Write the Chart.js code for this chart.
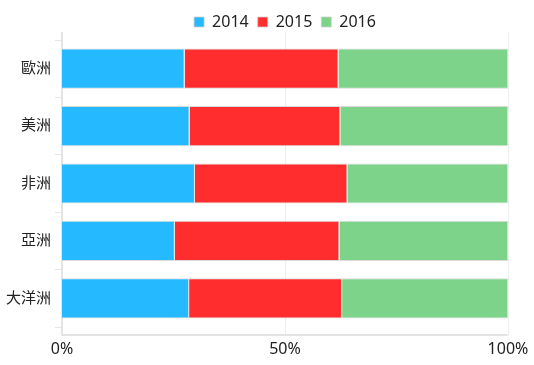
<!DOCTYPE html>
<html>
<head>
<meta charset="utf-8">
<script src="https://cdn.jsdelivr.net/npm/chart.js@4/dist/chart.umd.min.js"></script>
<style>
    html, body { margin: 0; padding: 0; background: #fff; }
    #wrap { width: 534px; height: 365px; }
</style>
</head>
<body>
<div id="wrap"><canvas id="grafikBenua"></canvas></div>
<script>
// share per continent, in percent
const benua = ['歐洲', '美洲', '非洲', '亞洲', '大洋洲'];
const tahun = ['2014', '2015', '2016'];
const data2014 = [27.5, 28.6, 29.8, 25.3, 28.5];
const data2015 = [34.5, 33.8, 34.2, 36.9, 34.3];
const data2016 = [38.0, 37.6, 36.0, 37.8, 37.2];
const xTicks = [0, 50, 100];

const warna = ['#25B9FF', '#FF2D2D', '#7CD389'];
const fontFamily = '"Noto Sans", "Noto Sans CJK TC", sans-serif';

// axis lines / grid are drawn a bit longer than the plot area, like the original
const garisSumbu = {
    id: 'garisSumbu',
    beforeDatasetsDraw(chart) {
        const { ctx, chartArea: a, scales: { x } } = chart;
        const ext = 8;
        ctx.save();
        ctx.strokeStyle = '#eeeeee';
        ctx.lineWidth = 1;
        x.ticks.forEach((t, i) => {
            if (t.value === 0) return;
            const px = Math.round(x.getPixelForTick(i)) + 0.5;
            ctx.beginPath();
            ctx.moveTo(px, a.top - ext);
            ctx.lineTo(px, a.bottom + ext);
            ctx.stroke();
        });
        ctx.strokeStyle = '#dcdcdc';
        ctx.lineWidth = 1.5;
        ctx.beginPath();
        ctx.moveTo(a.left, a.top - ext);
        ctx.lineTo(a.left, a.bottom + ext);
        ctx.lineTo(a.right, a.bottom + ext);
        ctx.stroke();
        ctx.restore();
    }
};

const createChart = (canvasId) => {
    const ctx = document.getElementById(canvasId);
    const series = [data2014, data2015, data2016];
    new Chart(ctx, {
        type: 'bar',
        data: {
            labels: benua,
            datasets: tahun.map((t, i) => ({
                label: t,
                data: series[i],
                backgroundColor: warna[i],
                borderColor: 'rgba(205,205,205,0.75)',
                borderWidth: 1,
                barPercentage: 0.7,
                categoryPercentage: 1
            }))
        },
        options: {
            indexAxis: 'y',
            responsive: true,
            maintainAspectRatio: false,
            animation: false,
            layout: { padding: { top: 5, right: 26, bottom: 0, left: 0 } },
            plugins: {
                legend: {
                    position: 'top',
                    fullSize: false,
                    labels: {
                        boxWidth: 10,
                        boxHeight: 10,
                        padding: 9,
                        color: '#222',
                        font: { family: fontFamily, size: 16 }
                    }
                },
                tooltip: { enabled: false }
            },
            scales: {
                x: {
                    stacked: true,
                    min: 0,
                    max: 100,
                    afterBuildTicks: (s) => { s.ticks = xTicks.map(v => ({ value: v })); },
                    afterFit: (s) => { s.height = 38; s.paddingLeft = 0; s.paddingRight = 0; },
                    grid: { display: false, drawTicks: false },
                    border: { display: false },
                    ticks: {
                        padding: 13,
                        color: '#222',
                        font: { family: fontFamily, size: 16 },
                        callback: (v) => v + '%'
                    }
                },
                y: {
                    stacked: true,
                    afterFit: (s) => { s.width = 62; },
                    grid: { drawOnChartArea: false, drawTicks: true, tickLength: 7, color: '#e6e6e6' },
                    border: { display: false },
                    ticks: {
                        padding: 4,
                        color: '#222',
                        font: { family: fontFamily, size: 15 }
                    }
                }
            }
        },
        plugins: [garisSumbu]
    });
};

createChart('grafikBenua');
</script>
</body>
</html>
